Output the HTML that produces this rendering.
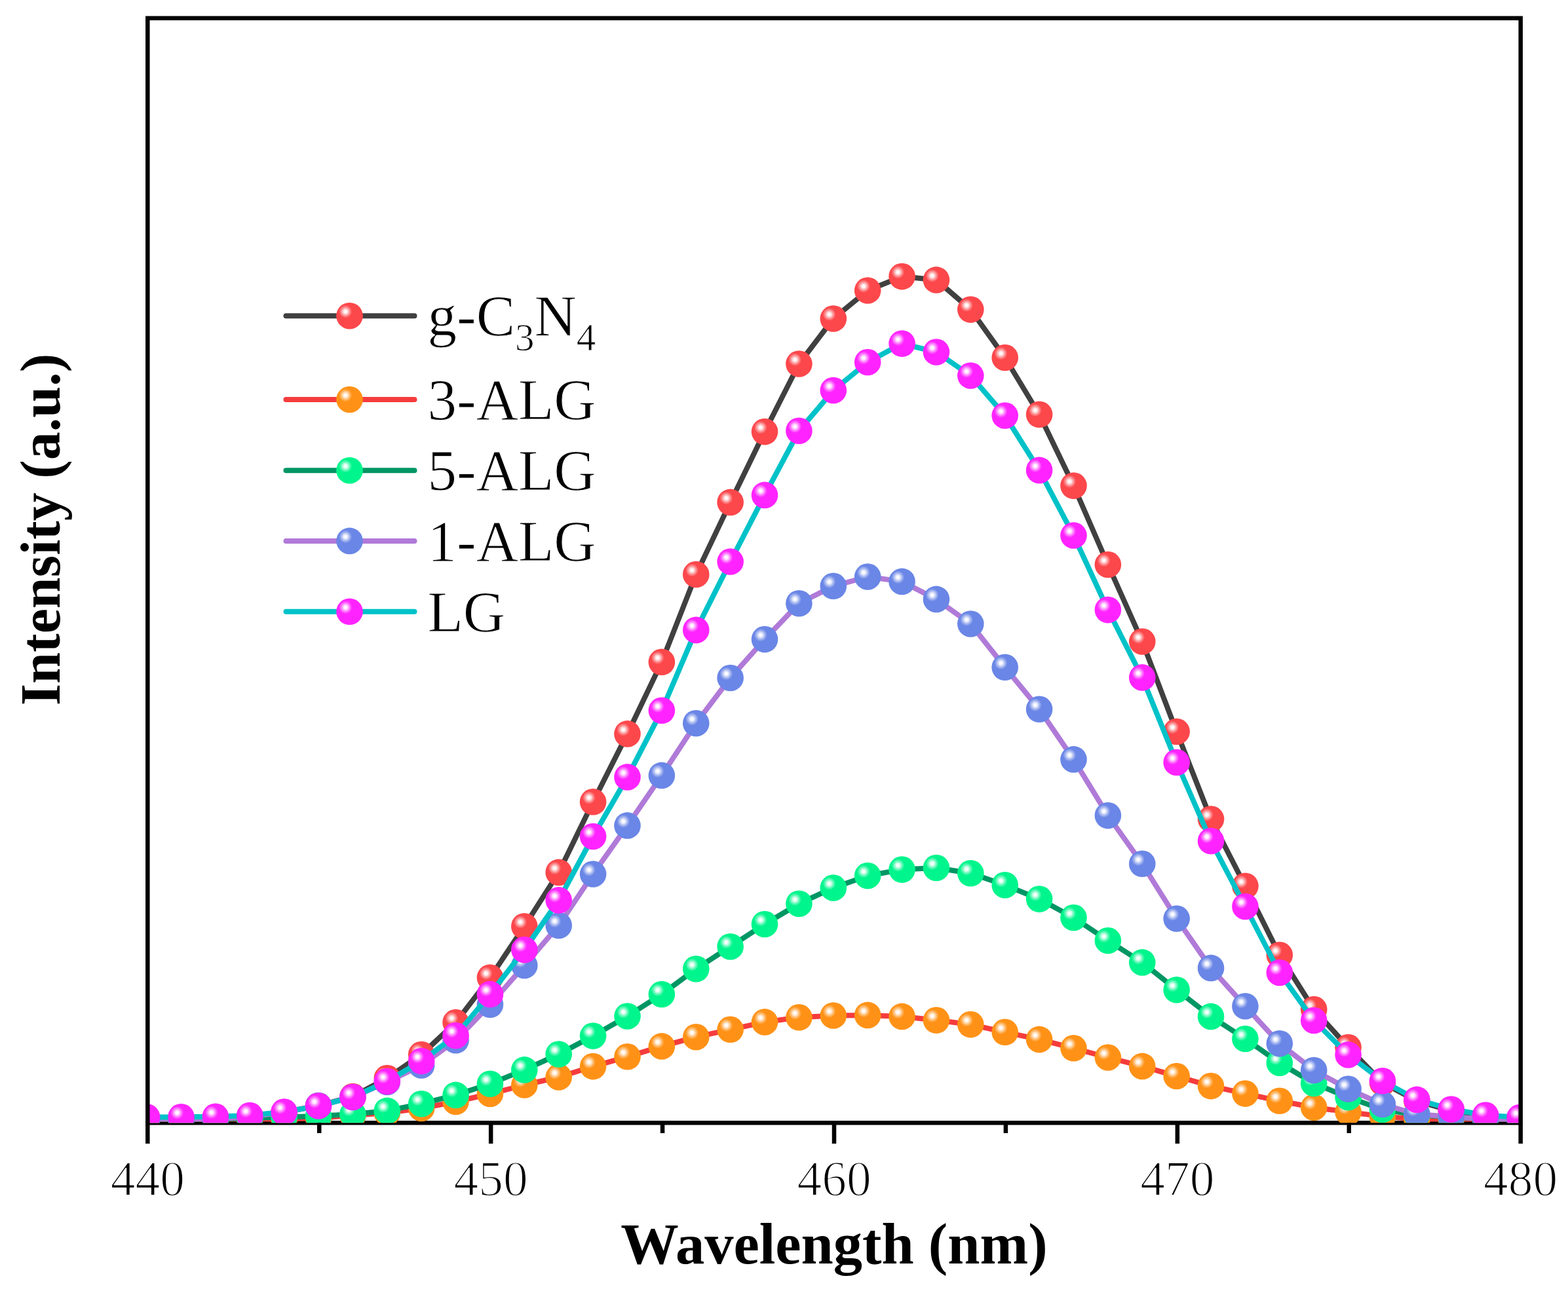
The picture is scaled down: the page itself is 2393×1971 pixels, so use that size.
<!DOCTYPE html><html><head><meta charset="utf-8"><style>html,body{margin:0;padding:0;background:#fff;}svg{display:block;}</style></head><body>
<svg width="2393" height="1971" viewBox="0 0 2393 1971">
<defs><radialGradient id="hl"><stop offset="0" stop-color="#fff" stop-opacity="1"/><stop offset="0.25" stop-color="#fff" stop-opacity="0.92"/><stop offset="0.6" stop-color="#fff" stop-opacity="0.45"/><stop offset="1" stop-color="#fff" stop-opacity="0"/></radialGradient>
<clipPath id="pc"><rect x="225.30" y="27.70" width="2095.40" height="1686.60"/></clipPath></defs>
<rect width="2393" height="1971" fill="#fff"/>
<line x1="222.05" y1="1714.30" x2="2323.95" y2="1714.30" stroke="#000" stroke-width="6.5"/>
<g clip-path="url(#pc)">
<path d="M224.10,1708.50 L276.49,1708.50 L328.87,1707.00 L381.25,1704.00 L433.64,1698.00 L486.02,1688.00 L538.41,1674.00 L590.79,1646.00 L643.18,1610.00 L695.56,1561.00 L747.95,1492.60 L800.33,1414.20 L852.72,1331.90 L905.10,1224.30 L957.49,1120.40 L1009.87,1010.80 L1062.26,877.00 L1114.64,766.90 L1167.03,659.10 L1219.41,555.50 L1271.80,486.50 L1324.18,443.50 L1376.57,422.10 L1428.95,427.40 L1481.34,472.60 L1533.72,546.00 L1586.11,632.80 L1638.49,741.60 L1690.88,862.00 L1743.26,979.50 L1795.65,1117.00 L1848.03,1250.50 L1900.42,1352.70 L1952.80,1458.00 L2005.19,1541.00 L2057.57,1599.00 L2109.96,1653.00 L2162.34,1681.00 L2214.73,1696.00 L2267.12,1704.00 L2319.50,1707.00" fill="none" stroke="#404040" stroke-width="8.0" stroke-linejoin="round"/>
<circle cx="224.10" cy="1708.50" r="20.3" fill="#fc474b"/><circle cx="217.90" cy="1702.00" r="10" fill="url(#hl)"/><circle cx="276.49" cy="1708.50" r="20.3" fill="#fc474b"/><circle cx="270.29" cy="1702.00" r="10" fill="url(#hl)"/><circle cx="328.87" cy="1707.00" r="20.3" fill="#fc474b"/><circle cx="322.67" cy="1700.50" r="10" fill="url(#hl)"/><circle cx="381.25" cy="1704.00" r="20.3" fill="#fc474b"/><circle cx="375.06" cy="1697.50" r="10" fill="url(#hl)"/><circle cx="433.64" cy="1698.00" r="20.3" fill="#fc474b"/><circle cx="427.44" cy="1691.50" r="10" fill="url(#hl)"/><circle cx="486.02" cy="1688.00" r="20.3" fill="#fc474b"/><circle cx="479.82" cy="1681.50" r="10" fill="url(#hl)"/><circle cx="538.41" cy="1674.00" r="20.3" fill="#fc474b"/><circle cx="532.21" cy="1667.50" r="10" fill="url(#hl)"/><circle cx="590.79" cy="1646.00" r="20.3" fill="#fc474b"/><circle cx="584.59" cy="1639.50" r="10" fill="url(#hl)"/><circle cx="643.18" cy="1610.00" r="20.3" fill="#fc474b"/><circle cx="636.98" cy="1603.50" r="10" fill="url(#hl)"/><circle cx="695.56" cy="1561.00" r="20.3" fill="#fc474b"/><circle cx="689.36" cy="1554.50" r="10" fill="url(#hl)"/><circle cx="747.95" cy="1492.60" r="20.3" fill="#fc474b"/><circle cx="741.75" cy="1486.10" r="10" fill="url(#hl)"/><circle cx="800.33" cy="1414.20" r="20.3" fill="#fc474b"/><circle cx="794.13" cy="1407.70" r="10" fill="url(#hl)"/><circle cx="852.72" cy="1331.90" r="20.3" fill="#fc474b"/><circle cx="846.52" cy="1325.40" r="10" fill="url(#hl)"/><circle cx="905.10" cy="1224.30" r="20.3" fill="#fc474b"/><circle cx="898.90" cy="1217.80" r="10" fill="url(#hl)"/><circle cx="957.49" cy="1120.40" r="20.3" fill="#fc474b"/><circle cx="951.29" cy="1113.90" r="10" fill="url(#hl)"/><circle cx="1009.87" cy="1010.80" r="20.3" fill="#fc474b"/><circle cx="1003.67" cy="1004.30" r="10" fill="url(#hl)"/><circle cx="1062.26" cy="877.00" r="20.3" fill="#fc474b"/><circle cx="1056.06" cy="870.50" r="10" fill="url(#hl)"/><circle cx="1114.64" cy="766.90" r="20.3" fill="#fc474b"/><circle cx="1108.44" cy="760.40" r="10" fill="url(#hl)"/><circle cx="1167.03" cy="659.10" r="20.3" fill="#fc474b"/><circle cx="1160.83" cy="652.60" r="10" fill="url(#hl)"/><circle cx="1219.41" cy="555.50" r="20.3" fill="#fc474b"/><circle cx="1213.21" cy="549.00" r="10" fill="url(#hl)"/><circle cx="1271.80" cy="486.50" r="20.3" fill="#fc474b"/><circle cx="1265.60" cy="480.00" r="10" fill="url(#hl)"/><circle cx="1324.18" cy="443.50" r="20.3" fill="#fc474b"/><circle cx="1317.98" cy="437.00" r="10" fill="url(#hl)"/><circle cx="1376.57" cy="422.10" r="20.3" fill="#fc474b"/><circle cx="1370.37" cy="415.60" r="10" fill="url(#hl)"/><circle cx="1428.95" cy="427.40" r="20.3" fill="#fc474b"/><circle cx="1422.75" cy="420.90" r="10" fill="url(#hl)"/><circle cx="1481.34" cy="472.60" r="20.3" fill="#fc474b"/><circle cx="1475.14" cy="466.10" r="10" fill="url(#hl)"/><circle cx="1533.72" cy="546.00" r="20.3" fill="#fc474b"/><circle cx="1527.52" cy="539.50" r="10" fill="url(#hl)"/><circle cx="1586.11" cy="632.80" r="20.3" fill="#fc474b"/><circle cx="1579.91" cy="626.30" r="10" fill="url(#hl)"/><circle cx="1638.49" cy="741.60" r="20.3" fill="#fc474b"/><circle cx="1632.29" cy="735.10" r="10" fill="url(#hl)"/><circle cx="1690.88" cy="862.00" r="20.3" fill="#fc474b"/><circle cx="1684.68" cy="855.50" r="10" fill="url(#hl)"/><circle cx="1743.26" cy="979.50" r="20.3" fill="#fc474b"/><circle cx="1737.06" cy="973.00" r="10" fill="url(#hl)"/><circle cx="1795.65" cy="1117.00" r="20.3" fill="#fc474b"/><circle cx="1789.45" cy="1110.50" r="10" fill="url(#hl)"/><circle cx="1848.03" cy="1250.50" r="20.3" fill="#fc474b"/><circle cx="1841.83" cy="1244.00" r="10" fill="url(#hl)"/><circle cx="1900.42" cy="1352.70" r="20.3" fill="#fc474b"/><circle cx="1894.22" cy="1346.20" r="10" fill="url(#hl)"/><circle cx="1952.80" cy="1458.00" r="20.3" fill="#fc474b"/><circle cx="1946.60" cy="1451.50" r="10" fill="url(#hl)"/><circle cx="2005.19" cy="1541.00" r="20.3" fill="#fc474b"/><circle cx="1998.99" cy="1534.50" r="10" fill="url(#hl)"/><circle cx="2057.57" cy="1599.00" r="20.3" fill="#fc474b"/><circle cx="2051.38" cy="1592.50" r="10" fill="url(#hl)"/><circle cx="2109.96" cy="1653.00" r="20.3" fill="#fc474b"/><circle cx="2103.76" cy="1646.50" r="10" fill="url(#hl)"/><circle cx="2162.34" cy="1681.00" r="20.3" fill="#fc474b"/><circle cx="2156.14" cy="1674.50" r="10" fill="url(#hl)"/><circle cx="2214.73" cy="1696.00" r="20.3" fill="#fc474b"/><circle cx="2208.53" cy="1689.50" r="10" fill="url(#hl)"/><circle cx="2267.12" cy="1704.00" r="20.3" fill="#fc474b"/><circle cx="2260.92" cy="1697.50" r="10" fill="url(#hl)"/><circle cx="2319.50" cy="1707.00" r="20.3" fill="#fc474b"/><circle cx="2313.30" cy="1700.50" r="10" fill="url(#hl)"/>
<path d="M224.10,1708.50 L276.49,1708.50 L328.87,1708.50 L381.25,1708.50 L433.64,1708.50 L486.02,1707.00 L538.41,1703.00 L590.79,1699.00 L643.18,1692.00 L695.56,1682.00 L747.95,1670.00 L800.33,1656.50 L852.72,1644.50 L905.10,1628.10 L957.49,1613.30 L1009.87,1597.40 L1062.26,1583.20 L1114.64,1571.80 L1167.03,1560.40 L1219.41,1553.30 L1271.80,1550.50 L1324.18,1549.90 L1376.57,1551.90 L1428.95,1557.60 L1481.34,1564.10 L1533.72,1575.80 L1586.11,1586.90 L1638.49,1600.30 L1690.88,1614.50 L1743.26,1627.90 L1795.65,1643.00 L1848.03,1658.10 L1900.42,1669.60 L1952.80,1680.80 L2005.19,1690.70 L2057.57,1697.80 L2109.96,1704.40 L2162.34,1708.50 L2214.73,1708.50 L2267.12,1708.50 L2319.50,1708.50" fill="none" stroke="#f53c3c" stroke-width="8.0" stroke-linejoin="round"/>
<circle cx="224.10" cy="1708.50" r="20.3" fill="#ff9216"/><circle cx="217.90" cy="1702.00" r="10" fill="url(#hl)"/><circle cx="276.49" cy="1708.50" r="20.3" fill="#ff9216"/><circle cx="270.29" cy="1702.00" r="10" fill="url(#hl)"/><circle cx="328.87" cy="1708.50" r="20.3" fill="#ff9216"/><circle cx="322.67" cy="1702.00" r="10" fill="url(#hl)"/><circle cx="381.25" cy="1708.50" r="20.3" fill="#ff9216"/><circle cx="375.06" cy="1702.00" r="10" fill="url(#hl)"/><circle cx="433.64" cy="1708.50" r="20.3" fill="#ff9216"/><circle cx="427.44" cy="1702.00" r="10" fill="url(#hl)"/><circle cx="486.02" cy="1707.00" r="20.3" fill="#ff9216"/><circle cx="479.82" cy="1700.50" r="10" fill="url(#hl)"/><circle cx="538.41" cy="1703.00" r="20.3" fill="#ff9216"/><circle cx="532.21" cy="1696.50" r="10" fill="url(#hl)"/><circle cx="590.79" cy="1699.00" r="20.3" fill="#ff9216"/><circle cx="584.59" cy="1692.50" r="10" fill="url(#hl)"/><circle cx="643.18" cy="1692.00" r="20.3" fill="#ff9216"/><circle cx="636.98" cy="1685.50" r="10" fill="url(#hl)"/><circle cx="695.56" cy="1682.00" r="20.3" fill="#ff9216"/><circle cx="689.36" cy="1675.50" r="10" fill="url(#hl)"/><circle cx="747.95" cy="1670.00" r="20.3" fill="#ff9216"/><circle cx="741.75" cy="1663.50" r="10" fill="url(#hl)"/><circle cx="800.33" cy="1656.50" r="20.3" fill="#ff9216"/><circle cx="794.13" cy="1650.00" r="10" fill="url(#hl)"/><circle cx="852.72" cy="1644.50" r="20.3" fill="#ff9216"/><circle cx="846.52" cy="1638.00" r="10" fill="url(#hl)"/><circle cx="905.10" cy="1628.10" r="20.3" fill="#ff9216"/><circle cx="898.90" cy="1621.60" r="10" fill="url(#hl)"/><circle cx="957.49" cy="1613.30" r="20.3" fill="#ff9216"/><circle cx="951.29" cy="1606.80" r="10" fill="url(#hl)"/><circle cx="1009.87" cy="1597.40" r="20.3" fill="#ff9216"/><circle cx="1003.67" cy="1590.90" r="10" fill="url(#hl)"/><circle cx="1062.26" cy="1583.20" r="20.3" fill="#ff9216"/><circle cx="1056.06" cy="1576.70" r="10" fill="url(#hl)"/><circle cx="1114.64" cy="1571.80" r="20.3" fill="#ff9216"/><circle cx="1108.44" cy="1565.30" r="10" fill="url(#hl)"/><circle cx="1167.03" cy="1560.40" r="20.3" fill="#ff9216"/><circle cx="1160.83" cy="1553.90" r="10" fill="url(#hl)"/><circle cx="1219.41" cy="1553.30" r="20.3" fill="#ff9216"/><circle cx="1213.21" cy="1546.80" r="10" fill="url(#hl)"/><circle cx="1271.80" cy="1550.50" r="20.3" fill="#ff9216"/><circle cx="1265.60" cy="1544.00" r="10" fill="url(#hl)"/><circle cx="1324.18" cy="1549.90" r="20.3" fill="#ff9216"/><circle cx="1317.98" cy="1543.40" r="10" fill="url(#hl)"/><circle cx="1376.57" cy="1551.90" r="20.3" fill="#ff9216"/><circle cx="1370.37" cy="1545.40" r="10" fill="url(#hl)"/><circle cx="1428.95" cy="1557.60" r="20.3" fill="#ff9216"/><circle cx="1422.75" cy="1551.10" r="10" fill="url(#hl)"/><circle cx="1481.34" cy="1564.10" r="20.3" fill="#ff9216"/><circle cx="1475.14" cy="1557.60" r="10" fill="url(#hl)"/><circle cx="1533.72" cy="1575.80" r="20.3" fill="#ff9216"/><circle cx="1527.52" cy="1569.30" r="10" fill="url(#hl)"/><circle cx="1586.11" cy="1586.90" r="20.3" fill="#ff9216"/><circle cx="1579.91" cy="1580.40" r="10" fill="url(#hl)"/><circle cx="1638.49" cy="1600.30" r="20.3" fill="#ff9216"/><circle cx="1632.29" cy="1593.80" r="10" fill="url(#hl)"/><circle cx="1690.88" cy="1614.50" r="20.3" fill="#ff9216"/><circle cx="1684.68" cy="1608.00" r="10" fill="url(#hl)"/><circle cx="1743.26" cy="1627.90" r="20.3" fill="#ff9216"/><circle cx="1737.06" cy="1621.40" r="10" fill="url(#hl)"/><circle cx="1795.65" cy="1643.00" r="20.3" fill="#ff9216"/><circle cx="1789.45" cy="1636.50" r="10" fill="url(#hl)"/><circle cx="1848.03" cy="1658.10" r="20.3" fill="#ff9216"/><circle cx="1841.83" cy="1651.60" r="10" fill="url(#hl)"/><circle cx="1900.42" cy="1669.60" r="20.3" fill="#ff9216"/><circle cx="1894.22" cy="1663.10" r="10" fill="url(#hl)"/><circle cx="1952.80" cy="1680.80" r="20.3" fill="#ff9216"/><circle cx="1946.60" cy="1674.30" r="10" fill="url(#hl)"/><circle cx="2005.19" cy="1690.70" r="20.3" fill="#ff9216"/><circle cx="1998.99" cy="1684.20" r="10" fill="url(#hl)"/><circle cx="2057.57" cy="1697.80" r="20.3" fill="#ff9216"/><circle cx="2051.38" cy="1691.30" r="10" fill="url(#hl)"/><circle cx="2109.96" cy="1704.40" r="20.3" fill="#ff9216"/><circle cx="2103.76" cy="1697.90" r="10" fill="url(#hl)"/><circle cx="2162.34" cy="1708.50" r="20.3" fill="#ff9216"/><circle cx="2156.14" cy="1702.00" r="10" fill="url(#hl)"/><circle cx="2214.73" cy="1708.50" r="20.3" fill="#ff9216"/><circle cx="2208.53" cy="1702.00" r="10" fill="url(#hl)"/><circle cx="2267.12" cy="1708.50" r="20.3" fill="#ff9216"/><circle cx="2260.92" cy="1702.00" r="10" fill="url(#hl)"/><circle cx="2319.50" cy="1708.50" r="20.3" fill="#ff9216"/><circle cx="2313.30" cy="1702.00" r="10" fill="url(#hl)"/>
<path d="M224.10,1708.50 L276.49,1708.50 L328.87,1708.50 L381.25,1707.00 L433.64,1705.50 L486.02,1704.00 L538.41,1701.00 L590.79,1695.90 L643.18,1685.20 L695.56,1671.90 L747.95,1654.70 L800.33,1633.40 L852.72,1609.50 L905.10,1581.60 L957.49,1551.50 L1009.87,1518.00 L1062.26,1479.30 L1114.64,1445.20 L1167.03,1411.00 L1219.41,1379.70 L1271.80,1355.50 L1324.18,1337.00 L1376.57,1327.60 L1428.95,1325.00 L1481.34,1333.30 L1533.72,1351.20 L1586.11,1372.60 L1638.49,1401.00 L1690.88,1436.00 L1743.26,1469.40 L1795.65,1511.20 L1848.03,1551.90 L1900.42,1586.00 L1952.80,1622.70 L2005.19,1654.00 L2057.57,1675.20 L2109.96,1694.00 L2162.34,1702.00 L2214.73,1705.50 L2267.12,1708.50 L2319.50,1708.50" fill="none" stroke="#009664" stroke-width="8.0" stroke-linejoin="round"/>
<circle cx="224.10" cy="1708.50" r="20.3" fill="#00f58c"/><circle cx="217.90" cy="1702.00" r="10" fill="url(#hl)"/><circle cx="276.49" cy="1708.50" r="20.3" fill="#00f58c"/><circle cx="270.29" cy="1702.00" r="10" fill="url(#hl)"/><circle cx="328.87" cy="1708.50" r="20.3" fill="#00f58c"/><circle cx="322.67" cy="1702.00" r="10" fill="url(#hl)"/><circle cx="381.25" cy="1707.00" r="20.3" fill="#00f58c"/><circle cx="375.06" cy="1700.50" r="10" fill="url(#hl)"/><circle cx="433.64" cy="1705.50" r="20.3" fill="#00f58c"/><circle cx="427.44" cy="1699.00" r="10" fill="url(#hl)"/><circle cx="486.02" cy="1704.00" r="20.3" fill="#00f58c"/><circle cx="479.82" cy="1697.50" r="10" fill="url(#hl)"/><circle cx="538.41" cy="1701.00" r="20.3" fill="#00f58c"/><circle cx="532.21" cy="1694.50" r="10" fill="url(#hl)"/><circle cx="590.79" cy="1695.90" r="20.3" fill="#00f58c"/><circle cx="584.59" cy="1689.40" r="10" fill="url(#hl)"/><circle cx="643.18" cy="1685.20" r="20.3" fill="#00f58c"/><circle cx="636.98" cy="1678.70" r="10" fill="url(#hl)"/><circle cx="695.56" cy="1671.90" r="20.3" fill="#00f58c"/><circle cx="689.36" cy="1665.40" r="10" fill="url(#hl)"/><circle cx="747.95" cy="1654.70" r="20.3" fill="#00f58c"/><circle cx="741.75" cy="1648.20" r="10" fill="url(#hl)"/><circle cx="800.33" cy="1633.40" r="20.3" fill="#00f58c"/><circle cx="794.13" cy="1626.90" r="10" fill="url(#hl)"/><circle cx="852.72" cy="1609.50" r="20.3" fill="#00f58c"/><circle cx="846.52" cy="1603.00" r="10" fill="url(#hl)"/><circle cx="905.10" cy="1581.60" r="20.3" fill="#00f58c"/><circle cx="898.90" cy="1575.10" r="10" fill="url(#hl)"/><circle cx="957.49" cy="1551.50" r="20.3" fill="#00f58c"/><circle cx="951.29" cy="1545.00" r="10" fill="url(#hl)"/><circle cx="1009.87" cy="1518.00" r="20.3" fill="#00f58c"/><circle cx="1003.67" cy="1511.50" r="10" fill="url(#hl)"/><circle cx="1062.26" cy="1479.30" r="20.3" fill="#00f58c"/><circle cx="1056.06" cy="1472.80" r="10" fill="url(#hl)"/><circle cx="1114.64" cy="1445.20" r="20.3" fill="#00f58c"/><circle cx="1108.44" cy="1438.70" r="10" fill="url(#hl)"/><circle cx="1167.03" cy="1411.00" r="20.3" fill="#00f58c"/><circle cx="1160.83" cy="1404.50" r="10" fill="url(#hl)"/><circle cx="1219.41" cy="1379.70" r="20.3" fill="#00f58c"/><circle cx="1213.21" cy="1373.20" r="10" fill="url(#hl)"/><circle cx="1271.80" cy="1355.50" r="20.3" fill="#00f58c"/><circle cx="1265.60" cy="1349.00" r="10" fill="url(#hl)"/><circle cx="1324.18" cy="1337.00" r="20.3" fill="#00f58c"/><circle cx="1317.98" cy="1330.50" r="10" fill="url(#hl)"/><circle cx="1376.57" cy="1327.60" r="20.3" fill="#00f58c"/><circle cx="1370.37" cy="1321.10" r="10" fill="url(#hl)"/><circle cx="1428.95" cy="1325.00" r="20.3" fill="#00f58c"/><circle cx="1422.75" cy="1318.50" r="10" fill="url(#hl)"/><circle cx="1481.34" cy="1333.30" r="20.3" fill="#00f58c"/><circle cx="1475.14" cy="1326.80" r="10" fill="url(#hl)"/><circle cx="1533.72" cy="1351.20" r="20.3" fill="#00f58c"/><circle cx="1527.52" cy="1344.70" r="10" fill="url(#hl)"/><circle cx="1586.11" cy="1372.60" r="20.3" fill="#00f58c"/><circle cx="1579.91" cy="1366.10" r="10" fill="url(#hl)"/><circle cx="1638.49" cy="1401.00" r="20.3" fill="#00f58c"/><circle cx="1632.29" cy="1394.50" r="10" fill="url(#hl)"/><circle cx="1690.88" cy="1436.00" r="20.3" fill="#00f58c"/><circle cx="1684.68" cy="1429.50" r="10" fill="url(#hl)"/><circle cx="1743.26" cy="1469.40" r="20.3" fill="#00f58c"/><circle cx="1737.06" cy="1462.90" r="10" fill="url(#hl)"/><circle cx="1795.65" cy="1511.20" r="20.3" fill="#00f58c"/><circle cx="1789.45" cy="1504.70" r="10" fill="url(#hl)"/><circle cx="1848.03" cy="1551.90" r="20.3" fill="#00f58c"/><circle cx="1841.83" cy="1545.40" r="10" fill="url(#hl)"/><circle cx="1900.42" cy="1586.00" r="20.3" fill="#00f58c"/><circle cx="1894.22" cy="1579.50" r="10" fill="url(#hl)"/><circle cx="1952.80" cy="1622.70" r="20.3" fill="#00f58c"/><circle cx="1946.60" cy="1616.20" r="10" fill="url(#hl)"/><circle cx="2005.19" cy="1654.00" r="20.3" fill="#00f58c"/><circle cx="1998.99" cy="1647.50" r="10" fill="url(#hl)"/><circle cx="2057.57" cy="1675.20" r="20.3" fill="#00f58c"/><circle cx="2051.38" cy="1668.70" r="10" fill="url(#hl)"/><circle cx="2109.96" cy="1694.00" r="20.3" fill="#00f58c"/><circle cx="2103.76" cy="1687.50" r="10" fill="url(#hl)"/><circle cx="2162.34" cy="1702.00" r="20.3" fill="#00f58c"/><circle cx="2156.14" cy="1695.50" r="10" fill="url(#hl)"/><circle cx="2214.73" cy="1705.50" r="20.3" fill="#00f58c"/><circle cx="2208.53" cy="1699.00" r="10" fill="url(#hl)"/><circle cx="2267.12" cy="1708.50" r="20.3" fill="#00f58c"/><circle cx="2260.92" cy="1702.00" r="10" fill="url(#hl)"/><circle cx="2319.50" cy="1708.50" r="20.3" fill="#00f58c"/><circle cx="2313.30" cy="1702.00" r="10" fill="url(#hl)"/>
<path d="M224.10,1708.50 L276.49,1708.50 L328.87,1708.50 L381.25,1705.00 L433.64,1698.00 L486.02,1688.00 L538.41,1675.00 L590.79,1652.00 L643.18,1626.50 L695.56,1588.30 L747.95,1533.80 L800.33,1474.00 L852.72,1412.90 L905.10,1334.50 L957.49,1260.40 L1009.87,1183.90 L1062.26,1104.20 L1114.64,1035.00 L1167.03,976.10 L1219.41,921.20 L1271.80,894.80 L1324.18,880.50 L1376.57,887.90 L1428.95,914.90 L1481.34,952.50 L1533.72,1018.80 L1586.11,1082.80 L1638.49,1159.40 L1690.88,1245.10 L1743.26,1318.80 L1795.65,1402.50 L1848.03,1477.90 L1900.42,1536.20 L1952.80,1593.20 L2005.19,1634.00 L2057.57,1662.60 L2109.96,1686.00 L2162.34,1701.00 L2214.73,1705.00 L2267.12,1708.50 L2319.50,1708.50" fill="none" stroke="#b07ad8" stroke-width="8.0" stroke-linejoin="round"/>
<circle cx="224.10" cy="1708.50" r="20.3" fill="#6a86e6"/><circle cx="217.90" cy="1702.00" r="10" fill="url(#hl)"/><circle cx="276.49" cy="1708.50" r="20.3" fill="#6a86e6"/><circle cx="270.29" cy="1702.00" r="10" fill="url(#hl)"/><circle cx="328.87" cy="1708.50" r="20.3" fill="#6a86e6"/><circle cx="322.67" cy="1702.00" r="10" fill="url(#hl)"/><circle cx="381.25" cy="1705.00" r="20.3" fill="#6a86e6"/><circle cx="375.06" cy="1698.50" r="10" fill="url(#hl)"/><circle cx="433.64" cy="1698.00" r="20.3" fill="#6a86e6"/><circle cx="427.44" cy="1691.50" r="10" fill="url(#hl)"/><circle cx="486.02" cy="1688.00" r="20.3" fill="#6a86e6"/><circle cx="479.82" cy="1681.50" r="10" fill="url(#hl)"/><circle cx="538.41" cy="1675.00" r="20.3" fill="#6a86e6"/><circle cx="532.21" cy="1668.50" r="10" fill="url(#hl)"/><circle cx="590.79" cy="1652.00" r="20.3" fill="#6a86e6"/><circle cx="584.59" cy="1645.50" r="10" fill="url(#hl)"/><circle cx="643.18" cy="1626.50" r="20.3" fill="#6a86e6"/><circle cx="636.98" cy="1620.00" r="10" fill="url(#hl)"/><circle cx="695.56" cy="1588.30" r="20.3" fill="#6a86e6"/><circle cx="689.36" cy="1581.80" r="10" fill="url(#hl)"/><circle cx="747.95" cy="1533.80" r="20.3" fill="#6a86e6"/><circle cx="741.75" cy="1527.30" r="10" fill="url(#hl)"/><circle cx="800.33" cy="1474.00" r="20.3" fill="#6a86e6"/><circle cx="794.13" cy="1467.50" r="10" fill="url(#hl)"/><circle cx="852.72" cy="1412.90" r="20.3" fill="#6a86e6"/><circle cx="846.52" cy="1406.40" r="10" fill="url(#hl)"/><circle cx="905.10" cy="1334.50" r="20.3" fill="#6a86e6"/><circle cx="898.90" cy="1328.00" r="10" fill="url(#hl)"/><circle cx="957.49" cy="1260.40" r="20.3" fill="#6a86e6"/><circle cx="951.29" cy="1253.90" r="10" fill="url(#hl)"/><circle cx="1009.87" cy="1183.90" r="20.3" fill="#6a86e6"/><circle cx="1003.67" cy="1177.40" r="10" fill="url(#hl)"/><circle cx="1062.26" cy="1104.20" r="20.3" fill="#6a86e6"/><circle cx="1056.06" cy="1097.70" r="10" fill="url(#hl)"/><circle cx="1114.64" cy="1035.00" r="20.3" fill="#6a86e6"/><circle cx="1108.44" cy="1028.50" r="10" fill="url(#hl)"/><circle cx="1167.03" cy="976.10" r="20.3" fill="#6a86e6"/><circle cx="1160.83" cy="969.60" r="10" fill="url(#hl)"/><circle cx="1219.41" cy="921.20" r="20.3" fill="#6a86e6"/><circle cx="1213.21" cy="914.70" r="10" fill="url(#hl)"/><circle cx="1271.80" cy="894.80" r="20.3" fill="#6a86e6"/><circle cx="1265.60" cy="888.30" r="10" fill="url(#hl)"/><circle cx="1324.18" cy="880.50" r="20.3" fill="#6a86e6"/><circle cx="1317.98" cy="874.00" r="10" fill="url(#hl)"/><circle cx="1376.57" cy="887.90" r="20.3" fill="#6a86e6"/><circle cx="1370.37" cy="881.40" r="10" fill="url(#hl)"/><circle cx="1428.95" cy="914.90" r="20.3" fill="#6a86e6"/><circle cx="1422.75" cy="908.40" r="10" fill="url(#hl)"/><circle cx="1481.34" cy="952.50" r="20.3" fill="#6a86e6"/><circle cx="1475.14" cy="946.00" r="10" fill="url(#hl)"/><circle cx="1533.72" cy="1018.80" r="20.3" fill="#6a86e6"/><circle cx="1527.52" cy="1012.30" r="10" fill="url(#hl)"/><circle cx="1586.11" cy="1082.80" r="20.3" fill="#6a86e6"/><circle cx="1579.91" cy="1076.30" r="10" fill="url(#hl)"/><circle cx="1638.49" cy="1159.40" r="20.3" fill="#6a86e6"/><circle cx="1632.29" cy="1152.90" r="10" fill="url(#hl)"/><circle cx="1690.88" cy="1245.10" r="20.3" fill="#6a86e6"/><circle cx="1684.68" cy="1238.60" r="10" fill="url(#hl)"/><circle cx="1743.26" cy="1318.80" r="20.3" fill="#6a86e6"/><circle cx="1737.06" cy="1312.30" r="10" fill="url(#hl)"/><circle cx="1795.65" cy="1402.50" r="20.3" fill="#6a86e6"/><circle cx="1789.45" cy="1396.00" r="10" fill="url(#hl)"/><circle cx="1848.03" cy="1477.90" r="20.3" fill="#6a86e6"/><circle cx="1841.83" cy="1471.40" r="10" fill="url(#hl)"/><circle cx="1900.42" cy="1536.20" r="20.3" fill="#6a86e6"/><circle cx="1894.22" cy="1529.70" r="10" fill="url(#hl)"/><circle cx="1952.80" cy="1593.20" r="20.3" fill="#6a86e6"/><circle cx="1946.60" cy="1586.70" r="10" fill="url(#hl)"/><circle cx="2005.19" cy="1634.00" r="20.3" fill="#6a86e6"/><circle cx="1998.99" cy="1627.50" r="10" fill="url(#hl)"/><circle cx="2057.57" cy="1662.60" r="20.3" fill="#6a86e6"/><circle cx="2051.38" cy="1656.10" r="10" fill="url(#hl)"/><circle cx="2109.96" cy="1686.00" r="20.3" fill="#6a86e6"/><circle cx="2103.76" cy="1679.50" r="10" fill="url(#hl)"/><circle cx="2162.34" cy="1701.00" r="20.3" fill="#6a86e6"/><circle cx="2156.14" cy="1694.50" r="10" fill="url(#hl)"/><circle cx="2214.73" cy="1705.00" r="20.3" fill="#6a86e6"/><circle cx="2208.53" cy="1698.50" r="10" fill="url(#hl)"/><circle cx="2267.12" cy="1708.50" r="20.3" fill="#6a86e6"/><circle cx="2260.92" cy="1702.00" r="10" fill="url(#hl)"/><circle cx="2319.50" cy="1708.50" r="20.3" fill="#6a86e6"/><circle cx="2313.30" cy="1702.00" r="10" fill="url(#hl)"/>
<path d="M224.10,1705.50 L276.49,1705.30 L328.87,1704.80 L381.25,1703.00 L433.64,1697.60 L486.02,1688.50 L538.41,1675.00 L590.79,1651.00 L643.18,1620.00 L695.56,1581.00 L747.95,1517.90 L800.33,1450.10 L852.72,1374.40 L905.10,1277.00 L957.49,1186.40 L1009.87,1084.80 L1062.26,961.90 L1114.64,857.50 L1167.03,755.90 L1219.41,657.70 L1271.80,596.00 L1324.18,553.00 L1376.57,524.60 L1428.95,537.50 L1481.34,573.50 L1533.72,634.50 L1586.11,717.90 L1638.49,817.50 L1690.88,931.10 L1743.26,1034.40 L1795.65,1164.00 L1848.03,1284.00 L1900.42,1384.00 L1952.80,1485.00 L2005.19,1558.00 L2057.57,1610.40 L2109.96,1650.30 L2162.34,1678.90 L2214.73,1693.50 L2267.12,1702.50 L2319.50,1706.00" fill="none" stroke="#00c2c8" stroke-width="8.0" stroke-linejoin="round"/>
<circle cx="224.10" cy="1705.50" r="20.3" fill="#ff24ff"/><circle cx="217.90" cy="1699.00" r="10" fill="url(#hl)"/><circle cx="276.49" cy="1705.30" r="20.3" fill="#ff24ff"/><circle cx="270.29" cy="1698.80" r="10" fill="url(#hl)"/><circle cx="328.87" cy="1704.80" r="20.3" fill="#ff24ff"/><circle cx="322.67" cy="1698.30" r="10" fill="url(#hl)"/><circle cx="381.25" cy="1703.00" r="20.3" fill="#ff24ff"/><circle cx="375.06" cy="1696.50" r="10" fill="url(#hl)"/><circle cx="433.64" cy="1697.60" r="20.3" fill="#ff24ff"/><circle cx="427.44" cy="1691.10" r="10" fill="url(#hl)"/><circle cx="486.02" cy="1688.50" r="20.3" fill="#ff24ff"/><circle cx="479.82" cy="1682.00" r="10" fill="url(#hl)"/><circle cx="538.41" cy="1675.00" r="20.3" fill="#ff24ff"/><circle cx="532.21" cy="1668.50" r="10" fill="url(#hl)"/><circle cx="590.79" cy="1651.00" r="20.3" fill="#ff24ff"/><circle cx="584.59" cy="1644.50" r="10" fill="url(#hl)"/><circle cx="643.18" cy="1620.00" r="20.3" fill="#ff24ff"/><circle cx="636.98" cy="1613.50" r="10" fill="url(#hl)"/><circle cx="695.56" cy="1581.00" r="20.3" fill="#ff24ff"/><circle cx="689.36" cy="1574.50" r="10" fill="url(#hl)"/><circle cx="747.95" cy="1517.90" r="20.3" fill="#ff24ff"/><circle cx="741.75" cy="1511.40" r="10" fill="url(#hl)"/><circle cx="800.33" cy="1450.10" r="20.3" fill="#ff24ff"/><circle cx="794.13" cy="1443.60" r="10" fill="url(#hl)"/><circle cx="852.72" cy="1374.40" r="20.3" fill="#ff24ff"/><circle cx="846.52" cy="1367.90" r="10" fill="url(#hl)"/><circle cx="905.10" cy="1277.00" r="20.3" fill="#ff24ff"/><circle cx="898.90" cy="1270.50" r="10" fill="url(#hl)"/><circle cx="957.49" cy="1186.40" r="20.3" fill="#ff24ff"/><circle cx="951.29" cy="1179.90" r="10" fill="url(#hl)"/><circle cx="1009.87" cy="1084.80" r="20.3" fill="#ff24ff"/><circle cx="1003.67" cy="1078.30" r="10" fill="url(#hl)"/><circle cx="1062.26" cy="961.90" r="20.3" fill="#ff24ff"/><circle cx="1056.06" cy="955.40" r="10" fill="url(#hl)"/><circle cx="1114.64" cy="857.50" r="20.3" fill="#ff24ff"/><circle cx="1108.44" cy="851.00" r="10" fill="url(#hl)"/><circle cx="1167.03" cy="755.90" r="20.3" fill="#ff24ff"/><circle cx="1160.83" cy="749.40" r="10" fill="url(#hl)"/><circle cx="1219.41" cy="657.70" r="20.3" fill="#ff24ff"/><circle cx="1213.21" cy="651.20" r="10" fill="url(#hl)"/><circle cx="1271.80" cy="596.00" r="20.3" fill="#ff24ff"/><circle cx="1265.60" cy="589.50" r="10" fill="url(#hl)"/><circle cx="1324.18" cy="553.00" r="20.3" fill="#ff24ff"/><circle cx="1317.98" cy="546.50" r="10" fill="url(#hl)"/><circle cx="1376.57" cy="524.60" r="20.3" fill="#ff24ff"/><circle cx="1370.37" cy="518.10" r="10" fill="url(#hl)"/><circle cx="1428.95" cy="537.50" r="20.3" fill="#ff24ff"/><circle cx="1422.75" cy="531.00" r="10" fill="url(#hl)"/><circle cx="1481.34" cy="573.50" r="20.3" fill="#ff24ff"/><circle cx="1475.14" cy="567.00" r="10" fill="url(#hl)"/><circle cx="1533.72" cy="634.50" r="20.3" fill="#ff24ff"/><circle cx="1527.52" cy="628.00" r="10" fill="url(#hl)"/><circle cx="1586.11" cy="717.90" r="20.3" fill="#ff24ff"/><circle cx="1579.91" cy="711.40" r="10" fill="url(#hl)"/><circle cx="1638.49" cy="817.50" r="20.3" fill="#ff24ff"/><circle cx="1632.29" cy="811.00" r="10" fill="url(#hl)"/><circle cx="1690.88" cy="931.10" r="20.3" fill="#ff24ff"/><circle cx="1684.68" cy="924.60" r="10" fill="url(#hl)"/><circle cx="1743.26" cy="1034.40" r="20.3" fill="#ff24ff"/><circle cx="1737.06" cy="1027.90" r="10" fill="url(#hl)"/><circle cx="1795.65" cy="1164.00" r="20.3" fill="#ff24ff"/><circle cx="1789.45" cy="1157.50" r="10" fill="url(#hl)"/><circle cx="1848.03" cy="1284.00" r="20.3" fill="#ff24ff"/><circle cx="1841.83" cy="1277.50" r="10" fill="url(#hl)"/><circle cx="1900.42" cy="1384.00" r="20.3" fill="#ff24ff"/><circle cx="1894.22" cy="1377.50" r="10" fill="url(#hl)"/><circle cx="1952.80" cy="1485.00" r="20.3" fill="#ff24ff"/><circle cx="1946.60" cy="1478.50" r="10" fill="url(#hl)"/><circle cx="2005.19" cy="1558.00" r="20.3" fill="#ff24ff"/><circle cx="1998.99" cy="1551.50" r="10" fill="url(#hl)"/><circle cx="2057.57" cy="1610.40" r="20.3" fill="#ff24ff"/><circle cx="2051.38" cy="1603.90" r="10" fill="url(#hl)"/><circle cx="2109.96" cy="1650.30" r="20.3" fill="#ff24ff"/><circle cx="2103.76" cy="1643.80" r="10" fill="url(#hl)"/><circle cx="2162.34" cy="1678.90" r="20.3" fill="#ff24ff"/><circle cx="2156.14" cy="1672.40" r="10" fill="url(#hl)"/><circle cx="2214.73" cy="1693.50" r="20.3" fill="#ff24ff"/><circle cx="2208.53" cy="1687.00" r="10" fill="url(#hl)"/><circle cx="2267.12" cy="1702.50" r="20.3" fill="#ff24ff"/><circle cx="2260.92" cy="1696.00" r="10" fill="url(#hl)"/><circle cx="2319.50" cy="1706.00" r="20.3" fill="#ff24ff"/><circle cx="2313.30" cy="1699.50" r="10" fill="url(#hl)"/>
</g>
<path d="M225.30,1717.55 L225.30,27.70 L2320.70,27.70 L2320.70,1717.55" fill="none" stroke="#000" stroke-width="6.5" stroke-linejoin="miter"/>
<line x1="225.30" y1="1714.30" x2="225.30" y2="1746.00" stroke="#000" stroke-width="6.5"/><line x1="487.22" y1="1714.30" x2="487.22" y2="1730.00" stroke="#000" stroke-width="6.5"/><line x1="749.15" y1="1714.30" x2="749.15" y2="1746.00" stroke="#000" stroke-width="6.5"/><line x1="1011.07" y1="1714.30" x2="1011.07" y2="1730.00" stroke="#000" stroke-width="6.5"/><line x1="1273.00" y1="1714.30" x2="1273.00" y2="1746.00" stroke="#000" stroke-width="6.5"/><line x1="1534.92" y1="1714.30" x2="1534.92" y2="1730.00" stroke="#000" stroke-width="6.5"/><line x1="1796.85" y1="1714.30" x2="1796.85" y2="1746.00" stroke="#000" stroke-width="6.5"/><line x1="2058.77" y1="1714.30" x2="2058.77" y2="1730.00" stroke="#000" stroke-width="6.5"/><line x1="2320.70" y1="1714.30" x2="2320.70" y2="1746.00" stroke="#000" stroke-width="6.5"/>
<g font-family="Liberation Serif, Times New Roman, serif" font-size="75.5" text-anchor="middle" fill="#000" stroke="#fff" stroke-width="1.8" stroke-linejoin="round">
<text x="225.30" y="1825">440</text>
<text x="749.15" y="1825">450</text>
<text x="1273.00" y="1825">460</text>
<text x="1796.85" y="1825">470</text>
<text x="2320.70" y="1825">480</text>
</g>
<text x="1273" y="1928.5" font-family="Liberation Serif, Times New Roman, serif" font-weight="bold" font-size="88.5" text-anchor="middle">Wavelength (nm)</text>
<text transform="translate(90.5,808.5) rotate(-90)" font-family="Liberation Serif, Times New Roman, serif" font-weight="bold" font-size="86" text-anchor="middle">Intensity (a.u.)</text>
<g font-family="Liberation Serif, Times New Roman, serif" font-size="89" fill="#000">
<line x1="436.5" y1="482.2" x2="632.5" y2="482.2" stroke="#404040" stroke-width="8.0" stroke-linecap="round"/>
<circle cx="533.50" cy="482.20" r="20.3" fill="#fc474b"/><circle cx="527.30" cy="475.70" r="10" fill="url(#hl)"/>
<text x="652.5" y="512.2" stroke="#fff" stroke-width="1.0" stroke-linejoin="round">g-C<tspan font-size="59" dy="23">3</tspan><tspan dy="-23">N</tspan><tspan font-size="59" dy="23">4</tspan></text>
<line x1="436.5" y1="610.0" x2="632.5" y2="610.0" stroke="#f53c3c" stroke-width="8.0" stroke-linecap="round"/>
<circle cx="533.50" cy="610.00" r="20.3" fill="#ff9216"/><circle cx="527.30" cy="603.50" r="10" fill="url(#hl)"/>
<text x="652.5" y="640.0" stroke="#fff" stroke-width="1.0" stroke-linejoin="round">3-ALG</text>
<line x1="436.5" y1="718.2" x2="632.5" y2="718.2" stroke="#009664" stroke-width="8.0" stroke-linecap="round"/>
<circle cx="533.50" cy="718.20" r="20.3" fill="#00f58c"/><circle cx="527.30" cy="711.70" r="10" fill="url(#hl)"/>
<text x="652.5" y="748.2" stroke="#fff" stroke-width="1.0" stroke-linejoin="round">5-ALG</text>
<line x1="436.5" y1="825.9" x2="632.5" y2="825.9" stroke="#b07ad8" stroke-width="8.0" stroke-linecap="round"/>
<circle cx="533.50" cy="825.90" r="20.3" fill="#6a86e6"/><circle cx="527.30" cy="819.40" r="10" fill="url(#hl)"/>
<text x="652.5" y="855.9" stroke="#fff" stroke-width="1.0" stroke-linejoin="round">1-ALG</text>
<line x1="436.5" y1="933.8" x2="632.5" y2="933.8" stroke="#00c2c8" stroke-width="8.0" stroke-linecap="round"/>
<circle cx="533.50" cy="933.80" r="20.3" fill="#ff24ff"/><circle cx="527.30" cy="927.30" r="10" fill="url(#hl)"/>
<text x="652.5" y="963.8" stroke="#fff" stroke-width="1.0" stroke-linejoin="round">LG</text>
</g>
</svg></body></html>
